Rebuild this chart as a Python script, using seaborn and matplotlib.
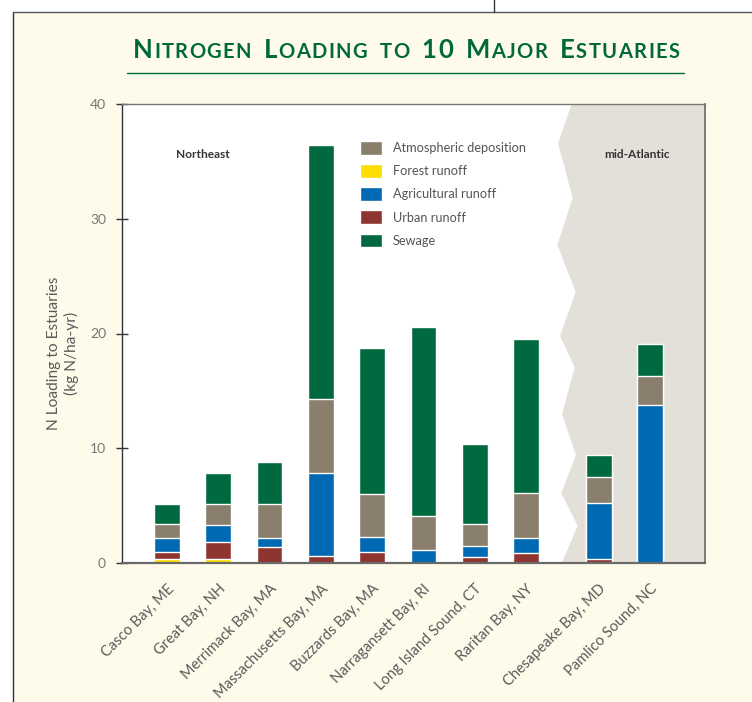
import numpy as np
import pandas as pd
import matplotlib
matplotlib.use("Agg")
import matplotlib.pyplot as plt
import matplotlib.transforms as mtransforms
import seaborn as sns
from matplotlib.patches import Patch, Polygon, Rectangle
from matplotlib.lines import Line2D
from matplotlib.offsetbox import TextArea, HPacker, AnnotationBbox

# --- data (kg N/ha-yr) ---
estuaries = ["Casco Bay, ME", "Great Bay, NH", "Merrimack Bay, MA", "Massachusetts Bay, MA",
             "Buzzards Bay, MA", "Narragansett Bay, RI", "Long Island Sound, CT", "Raritan Bay, NY",
             "Chesapeake Bay, MD", "Pamlico Sound, NC"]
region = ["Northeast"] * 8 + ["mid-Atlantic"] * 2
forest = [0.35, 0.35, 0.0, 0.0, 0.0, 0.0, 0.0, 0.0, 0.0, 0.0]
urban = [0.65, 1.48, 1.40, 0.58, 0.98, 0.0, 0.55, 0.90, 0.37, 0.0]
agri = [1.15, 1.48, 0.75, 7.30, 1.32, 1.16, 0.96, 1.30, 4.83, 13.80]
atmos = [1.28, 1.84, 3.00, 6.37, 3.74, 2.96, 1.92, 3.88, 2.27, 2.53]
sewage = [1.70, 2.67, 3.63, 22.20, 12.70, 16.45, 6.94, 13.45, 1.98, 2.77]
yticks = [0, 10, 20, 30, 40]

# colours
c_sew, c_atm, c_for, c_agr, c_urb = "#00693F", "#8A7E6C", "#FFDD00", "#0069B4", "#8F3530"
cream, grey_bg, txt = "#FEFBEA", "#E3E0DA", "#5a5a5a"

df = pd.DataFrame({"estuary": estuaries, "region": region, "forest": forest, "urban": urban,
                   "agri": agri, "atmos": atmos, "sewage": sewage})
# extra gap between the two regions
df["pos"] = np.arange(len(df)) + np.where(df["region"] == "mid-Atlantic", 0.42, 0.0)
df["l_for"] = df["forest"]
df["l_urb"] = df["l_for"] + df["urban"]
df["l_agr"] = df["l_urb"] + df["agri"]
df["l_atm"] = df["l_agr"] + df["atmos"]
df["l_sew"] = df["l_atm"] + df["sewage"]

sns.set_style("white")
plt.rcParams["font.family"] = ["Lato", "DejaVu Sans"]

W, H = 752, 702
fig = plt.figure(figsize=(W / 100, H / 100), dpi=100)
fig.patch.set_facecolor("white")

def fx(px):
    return px / W

def fy(py):
    return 1 - py / H

# cream panel with frame lines
fig.add_artist(Rectangle((fx(13), 0), 1, fy(12), transform=fig.transFigure,
                         facecolor=cream, edgecolor="none", zorder=-10))
fig.add_artist(Line2D([fx(13), fx(13)], [0, fy(12)], transform=fig.transFigure, color="#333", lw=1))
fig.add_artist(Line2D([fx(13), 1], [fy(12), fy(12)], transform=fig.transFigure, color="#555", lw=1))
fig.add_artist(Line2D([fx(494), fx(494)], [fy(12), 1], transform=fig.transFigure, color="#333", lw=1))

ax = fig.add_axes([fx(122), fy(563), fx(705) - fx(122), fy(104) - fy(563)])
ax.set_facecolor("white")

# mid-Atlantic shaded zone with zig-zag edge (axes fraction)
zig = [(0.7714, 1.0), (0.7479, 0.915), (0.7731, 0.7952), (0.7467, 0.6928), (0.7782, 0.5904),
       (0.7513, 0.4952), (0.7765, 0.4255), (0.7547, 0.3246), (0.7787, 0.2353), (0.7535, 0.1519),
       (0.7816, 0.0813), (0.7544, 0.0)]
ax.add_patch(Polygon(zig + [(1, 0), (1, 1)], closed=True, transform=ax.transAxes,
                     facecolor=grey_bg, edgecolor="none", zorder=0.5))

# stacked bars drawn as overlapping cumulative layers
for col, c in [("l_sew", c_sew), ("l_atm", c_atm), ("l_agr", c_agr), ("l_urb", c_urb), ("l_for", c_for)]:
    sns.barplot(data=df, x="pos", y=col, native_scale=True, color=c, saturation=1,
                width=0.5, edgecolor="white", linewidth=1, errorbar=None, ax=ax, zorder=2)

ax.set_xlim(-0.877, 10.49)
ax.set_ylim(0, 40)
ax.set_yticks(yticks)
ax.set_yticklabels([str(t) for t in yticks], fontsize=10, color="#777")
ax.tick_params(axis="y", direction="inout", length=9, width=1, color="#333", pad=7, left=True)
ax.set_xticks(df["pos"])
ax.set_xticklabels(df["estuary"], rotation=45, ha="right", va="center",
                   rotation_mode="anchor", fontsize=10.5, color=txt)
ax.tick_params(axis="x", length=0, pad=17)
shift = mtransforms.ScaledTranslation(5 / 100, 0, fig.dpi_scale_trans)
for lab in ax.get_xticklabels():
    lab.set_transform(lab.get_transform() + shift)
ax.set_xlabel("")
ax.set_ylabel("")
for side, c, lw in [("left", "#333", 1), ("bottom", "#6a6a6a", 1.6), ("top", "#777", 1), ("right", "#666", 1.2)]:
    ax.spines[side].set_visible(True)
    ax.spines[side].set_color(c)
    ax.spines[side].set_linewidth(lw)
    ax.spines[side].set_zorder(3)

fig.text(fx(63), fy(353), "N Loading to Estuaries\n(kg N/ha-yr)", rotation=90, ha="center",
         va="center", fontsize=11.2, color=txt, linespacing=1.25)

fig.text(fx(203), fy(154), "Northeast", ha="center", va="center", fontsize=8.6,
         fontweight="bold", color="#333")
fig.text(fx(637), fy(154), "mid-Atlantic", ha="center", va="center", fontsize=8.6,
         fontweight="bold", color="#333")

handles = [Patch(facecolor=c_atm, label="Atmospheric deposition"),
           Patch(facecolor=c_for, label="Forest runoff"),
           Patch(facecolor=c_agr, label="Agricultural runoff"),
           Patch(facecolor=c_urb, label="Urban runoff"),
           Patch(facecolor=c_sew, label="Sewage")]
fig.legend(handles=handles, loc="upper left", bbox_to_anchor=(fx(360), fy(141)),
           fontsize=9.2, labelcolor="#555", frameon=False, borderpad=0, borderaxespad=0,
           handlelength=1.7, handleheight=1.3, handletextpad=0.85, labelspacing=0.72)

# small-caps title
title_words = ["Nitrogen", "Loading", "to", "10", "Major", "Estuaries"]
words = []
for w in title_words:
    chars = []
    for ch in w:
        big = ch.isupper() or ch.isdigit()
        chars.append(TextArea(ch.upper(), textprops=dict(fontsize=18.5 if big else 14.5,
                                                         fontweight="bold", color="#00683B")))
    words.append(HPacker(children=chars, align="baseline", pad=0, sep=1))
title_box = HPacker(children=words, align="baseline", pad=0, sep=9)
fig.add_artist(AnnotationBbox(title_box, (fx(406), fy(50)), xycoords="figure fraction",
                              frameon=False, box_alignment=(0.5, 0.5), pad=0))
fig.add_artist(Line2D([fx(127), fx(684)], [fy(73), fy(73)], transform=fig.transFigure,
                      color="#00683B", lw=1))

fig.savefig("out.png", dpi=100, facecolor=fig.get_facecolor())
